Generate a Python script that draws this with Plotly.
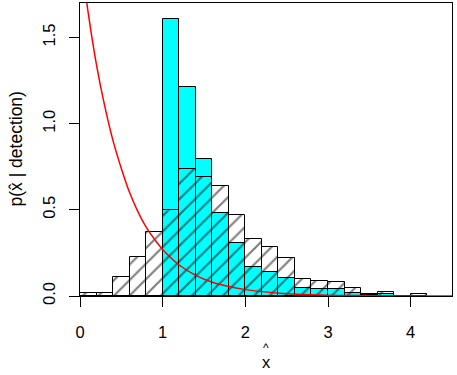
import plotly.graph_objects as go

# Histogram of detected (cyan) values, bin width 0.2 starting at 1.0
cyan_left = [1.0, 1.2, 1.4, 1.6, 1.8, 2.0, 2.2, 2.4, 2.6, 2.8, 3.0, 3.2, 3.4, 3.6]
cyan_dens = [1.61, 1.21, 0.795, 0.484, 0.306, 0.170, 0.141, 0.103, 0.045, 0.039, 0.039, 0.019, 0.006, 0.012]

# Hatched histogram, bin width 0.2 starting at 0
hatch_left = [0.0, 0.2, 0.4, 0.6, 0.8, 1.0, 1.2, 1.4, 1.6, 1.8, 2.0, 2.2, 2.4, 2.6, 2.8, 3.0, 3.2, 3.4, 3.6, 3.8, 4.0]
hatch_dens = [0.019, 0.019, 0.109, 0.227, 0.374, 0.500, 0.737, 0.690, 0.640, 0.471, 0.330, 0.287, 0.219, 0.099, 0.089, 0.083, 0.048, 0.012, 0.025, 0.0, 0.012]

# Red density curve
curve_x = [0.0, 0.1, 0.2, 0.3, 0.4, 0.5, 0.6, 0.7, 0.8, 0.9, 1.0, 1.2, 1.4, 1.6, 1.8, 2.0, 2.5, 3.0, 3.5, 4.0, 4.5]
curve_y = [2.0, 1.64, 1.34, 1.10, 0.90, 0.74, 0.60, 0.49, 0.40, 0.33, 0.27, 0.18, 0.12, 0.08, 0.055, 0.037, 0.013, 0.005, 0.002, 0.0007, 0.0002]

x_ticks = [0, 1, 2, 3, 4]
y_ticks = [0, 0.5, 1.0, 1.5]
y_ticklabels = ["0.0", "0.5", "1.0", "1.5"]

BIN_W = 0.2
FONT = "Liberation Sans, Arial, Helvetica, sans-serif"

fig = go.Figure()
fig.add_trace(go.Bar(
    x=cyan_left, y=cyan_dens, width=BIN_W, offset=0,
    marker=dict(color="#00FFFF", line=dict(color="black", width=1)),
    showlegend=False, hoverinfo="skip",
))
fig.add_trace(go.Bar(
    x=hatch_left, y=hatch_dens, width=BIN_W, offset=0,
    marker=dict(color="rgba(0,0,0,0)", line=dict(color="black", width=1),
                pattern=dict(shape="/", size=11, solidity=0.2,
                             fgcolor="black", bgcolor="rgba(0,0,0,0)")),
    showlegend=False, hoverinfo="skip",
))
fig.add_trace(go.Scatter(
    x=curve_x, y=curve_y, mode="lines",
    line=dict(color="#FF0000", width=1.5, shape="spline"),
    showlegend=False, hoverinfo="skip",
))

axis_common = dict(
    showline=True, mirror=True, linecolor="black", linewidth=1,
    ticks="outside", ticklen=10, tickwidth=1, tickcolor="black",
    showgrid=False, zeroline=False,
    tickfont=dict(family=FONT, size=16.5, color="black"),
)

fig.update_layout(
    width=457, height=375,
    margin=dict(l=80, r=5, t=3, b=79),
    paper_bgcolor="white", plot_bgcolor="white",
    barmode="overlay", bargap=0,
    xaxis=dict(range=[0, 4.5], tickvals=x_ticks, ticklabelstandoff=11, **axis_common),
    yaxis=dict(range=[0, 1.70], tickvals=y_ticks, ticktext=y_ticklabels,
               tickangle=-90, ticklabelstandoff=7, **axis_common),
    annotations=[
        dict(text="x", xref="paper", yref="paper", x=0.5, y=-0.224,
             xanchor="center", yanchor="middle", showarrow=False,
             font=dict(family=FONT, size=16.5, color="black")),
        dict(text="^", xref="paper", yref="paper", x=0.5, y=-0.176,
             xanchor="center", yanchor="middle", showarrow=False,
             font=dict(family=FONT, size=12, color="black")),
        dict(text="p(x\u0302 | detection)", xref="paper", yref="paper", x=(15 - 80) / 372, y=0.5,
             xanchor="center", yanchor="middle", textangle=-90, showarrow=False,
             font=dict(family=FONT, size=17.5, color="black")),
    ],
)

fig.write_html("out.html")
